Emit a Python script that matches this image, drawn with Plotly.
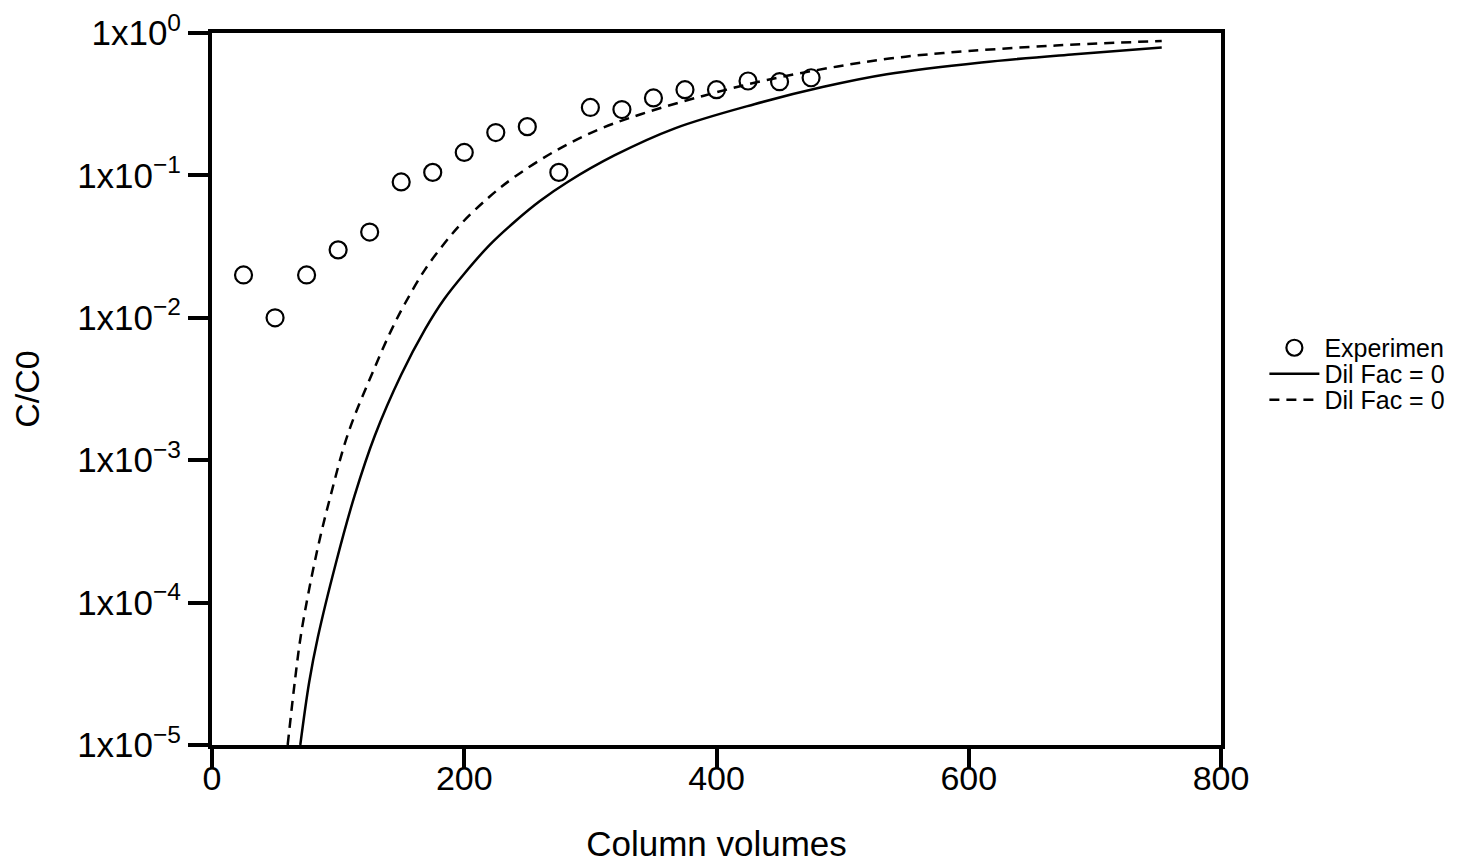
import plotly.graph_objects as go

# Experimental data
exp_x = [25, 50, 75, 100, 125, 150, 175, 200, 225, 250, 275, 300, 325, 350, 375, 400, 425, 450, 475]
exp_y = [0.02, 0.01, 0.02, 0.03, 0.04, 0.09, 0.105, 0.145, 0.2, 0.22, 0.105, 0.3, 0.29, 0.35, 0.40, 0.40, 0.46, 0.455, 0.485]

# Model curve 1 (solid)
solid_x = [70, 77, 84, 98, 113, 129, 150, 169, 184, 200, 220, 240, 260, 282, 319, 367, 430, 484, 535, 610, 684, 753]
solid_y = [1.0e-5, 2.75e-5, 5.75e-5, 1.86e-4, 5.62e-4, 1.48e-3, 3.98e-3, 8.32e-3, 0.0135, 0.0204, 0.0324,
           0.0473, 0.0661, 0.0899, 0.138, 0.214, 0.316, 0.417, 0.513, 0.621, 0.710, 0.791]

# Model curve 2 (dashed)
dash_x = [60, 66, 71, 83, 94, 108, 129, 142, 153, 169, 184, 198, 220, 240, 272, 306, 340, 390, 440, 496, 537, 580, 669, 753]
dash_y = [1.0e-5, 2.95e-5, 6.31e-5, 2.24e-4, 5.62e-4, 1.55e-3, 4.47e-3, 8.13e-3, 0.0126, 0.0219, 0.0331, 0.0462,
          0.0708, 0.0977, 0.148, 0.209, 0.269, 0.363, 0.468, 0.582, 0.661, 0.724, 0.817, 0.879]

series_names = ["Experimen", "Dil Fac = 0", "Dil Fac = 0"]

x_ticks = [0, 200, 400, 600, 800]
y_tickvals = [1e0, 1e-1, 1e-2, 1e-3, 1e-4, 1e-5]
y_ticktext = ["1x10<sup>0</sup>", "1x10<sup>\u22121</sup>", "1x10<sup>\u22122</sup>",
              "1x10<sup>\u22123</sup>", "1x10<sup>\u22124</sup>", "1x10<sup>\u22125</sup>"]

FONT = "Liberation Sans, Arial, Helvetica, sans-serif"

fig = go.Figure()
fig.add_trace(go.Scatter(
    x=exp_x, y=exp_y, mode="markers", name=series_names[0], legend="legend",
    marker=dict(symbol="circle-open", size=17, color="black", line=dict(width=2.2, color="black")),
    cliponaxis=False,
))
fig.add_trace(go.Scatter(
    x=solid_x, y=solid_y, mode="lines", name=series_names[1], legend="legend2",
    line=dict(color="black", width=2.5, shape="spline", smoothing=1.0),
))
fig.add_trace(go.Scatter(
    x=dash_x, y=dash_y, mode="lines", name=series_names[2], legend="legend3",
    line=dict(color="black", width=2.5, dash="10px,7px", shape="spline", smoothing=1.0),
))

leg_common = dict(
    x=1.043, xanchor="left", yanchor="middle",
    font=dict(size=25, family=FONT, color="black"),
    bgcolor="rgba(0,0,0,0)", itemwidth=50,
)

fig.update_layout(
    width=1459, height=867,
    margin=dict(l=212, r=238, t=33, b=122, autoexpand=False),
    paper_bgcolor="white", plot_bgcolor="white",
    font=dict(family=FONT, color="black"),
    showlegend=True,
    legend=dict(y=0.5576, **leg_common),
    legend2=dict(y=0.5211, **leg_common),
    legend3=dict(y=0.4846, **leg_common),
)

fig.update_xaxes(
    range=[0, 800], tickvals=x_ticks, ticktext=[str(v) for v in x_ticks],
    showgrid=False, zeroline=False,
    showline=True, linecolor="black", linewidth=4, mirror=True,
    ticks="outside", ticklen=20, tickwidth=4, tickcolor="black",
    tickfont=dict(size=34, family=FONT), ticklabelstandoff=-20,
    title=dict(text="Column volumes", font=dict(size=35, family=FONT), standoff=37),
    automargin=False,
)
fig.update_yaxes(
    type="log", range=[-5, 0], tickvals=y_tickvals, ticktext=y_ticktext,
    showgrid=False, zeroline=False,
    showline=True, linecolor="black", linewidth=4, mirror=True,
    ticks="outside", ticklen=20, tickwidth=4, tickcolor="black",
    tickfont=dict(size=35, family=FONT),
    title=dict(text="C/C0", font=dict(size=34, family=FONT), standoff=28),
    automargin=False,
)

fig.write_html("out.html", config={"displayModeBar": False},
               post_script="document.body.style.margin='0px';")
